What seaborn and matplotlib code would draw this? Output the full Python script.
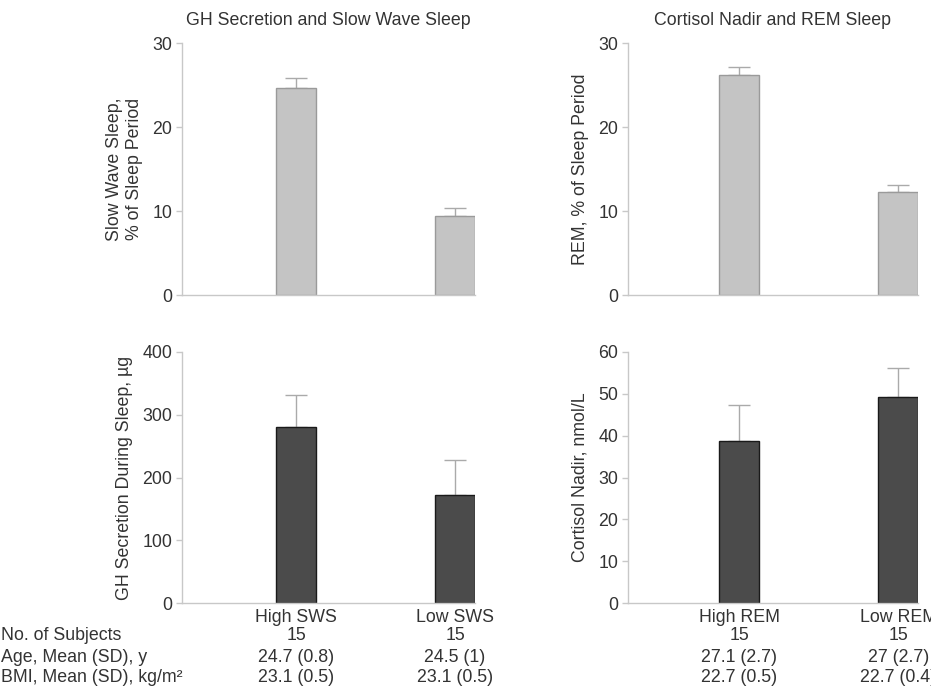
import matplotlib
matplotlib.use("Agg")
import matplotlib.pyplot as plt
import matplotlib.transforms as mtrans
import seaborn as sns
import pandas as pd

sns.set_style("white")
plt.rcParams['font.family'] = ['Liberation Sans', 'DejaVu Sans']

# ---- data ----
sws_groups = ["High SWS", "Low SWS"]
rem_groups = ["High REM", "Low REM"]
sws_pct = [24.6, 9.4]
sws_pct_err = [1.2, 1.0]
rem_pct = [26.2, 12.3]
rem_pct_err = [0.9, 0.8]
gh_secretion = [280, 172]
gh_secretion_err = [52, 56]
cortisol_nadir = [38.7, 49.3]
cortisol_nadir_err = [8.6, 6.9]

table_rows = ["No. of Subjects", "Age, Mean (SD), y", "BMI, Mean (SD), kg/m²"]
sws_table = [["15", "15"], ["24.7 (0.8)", "24.5 (1)"], ["23.1 (0.5)", "23.1 (0.5)"]]
rem_table = [["15", "15"], ["27.1 (2.7)", "27 (2.7)"], ["22.7 (0.5)", "22.7 (0.4)"]]

W, H = 931, 689
fig = plt.figure(figsize=(W / 100, H / 100), dpi=100)

def px_axes(x0, x1, ytop, ybot):
    return fig.add_axes([x0 / W, (H - ybot) / H, (x1 - x0) / W, (ybot - ytop) / H])

txt_col = "#333333"
spine_col = "#c8c8c8"
FS = 12.8

def panel(ax, groups, vals, errs, face, edge, ylim, yticks, ylabel, xlim, title=None):
    df = pd.DataFrame({"group": groups, "value": vals})
    sns.barplot(data=df, x="group", y="value", order=groups, ax=ax, color=face,
                width=0.25, edgecolor=edge, linewidth=1.0, errorbar=None, saturation=1)
    ax.errorbar(x=list(range(len(groups))), y=vals, yerr=[[0] * len(errs), errs],
                fmt="none", ecolor="#aaaaaa", elinewidth=1.0, capsize=8, capthick=1.0, zorder=0)
    ax.set_ylim(*ylim)
    ax.set_xlim(*xlim)
    ax.set_yticks(yticks)
    ax.set_yticklabels([str(t) for t in yticks], fontsize=FS, color=txt_col)
    ax.set_xticks([])
    ax.set_xlabel("")
    ax.set_ylabel(ylabel, fontsize=FS, color=txt_col, labelpad=7)
    for s in ["top", "right"]:
        ax.spines[s].set_visible(False)
    for s in ["left", "bottom"]:
        ax.spines[s].set_color(spine_col)
        ax.spines[s].set_linewidth(1.0)
    ax.tick_params(axis="y", which="both", left=True, length=4, width=1, color=spine_col, pad=3)
    if title:
        ax.set_title(title, fontsize=FS, color=txt_col, pad=13)

light_face, light_edge = "#c4c4c4", "#9a9a9a"
dark_face, dark_edge = "#4b4b4b", "#1a1a1a"

ax1 = px_axes(182, 475, 43, 295)
panel(ax1, sws_groups, sws_pct, sws_pct_err, light_face, light_edge, (0, 30), [0, 10, 20, 30],
      "Slow Wave Sleep,\n% of Sleep Period", (-0.717, 1.125), "GH Secretion and Slow Wave Sleep")

ax2 = px_axes(628, 918, 43, 295)
panel(ax2, rem_groups, rem_pct, rem_pct_err, light_face, light_edge, (0, 30), [0, 10, 20, 30],
      "REM, % of Sleep Period", (-0.70, 1.125), "Cortisol Nadir and REM Sleep")

ax3 = px_axes(182, 475, 352, 603)
panel(ax3, sws_groups, gh_secretion, gh_secretion_err, dark_face, dark_edge, (0, 400),
      [0, 100, 200, 300, 400], "GH Secretion During Sleep, µg", (-0.717, 1.125))

ax4 = px_axes(628, 918, 352, 603)
panel(ax4, rem_groups, cortisol_nadir, cortisol_nadir_err, dark_face, dark_edge, (0, 60),
      [0, 10, 20, 30, 40, 50, 60], "Cortisol Nadir, nmol/L", (-0.70, 1.125))

# ---- table below bottom panels ----
row_y = [636, 657, 677]
cat_y = 618
for lab, y in zip(table_rows, row_y):
    fig.text(1 / W, 1 - y / H, lab, fontsize=FS, color=txt_col, ha="left", va="center")

for ax, groups, tab in [(ax3, sws_groups, sws_table), (ax4, rem_groups, rem_table)]:
    tr = mtrans.blended_transform_factory(ax.transData, fig.transFigure)
    for i, g in enumerate(groups):
        ax.text(i, 1 - cat_y / H, g, transform=tr,
                fontsize=FS, color=txt_col, ha="center", va="center", clip_on=False)
        for r, y in enumerate(row_y):
            ax.text(i, 1 - y / H, tab[r][i], transform=tr,
                    fontsize=FS, color=txt_col, ha="center", va="center", clip_on=False)

fig.savefig("out.png", dpi=100, facecolor="white")
